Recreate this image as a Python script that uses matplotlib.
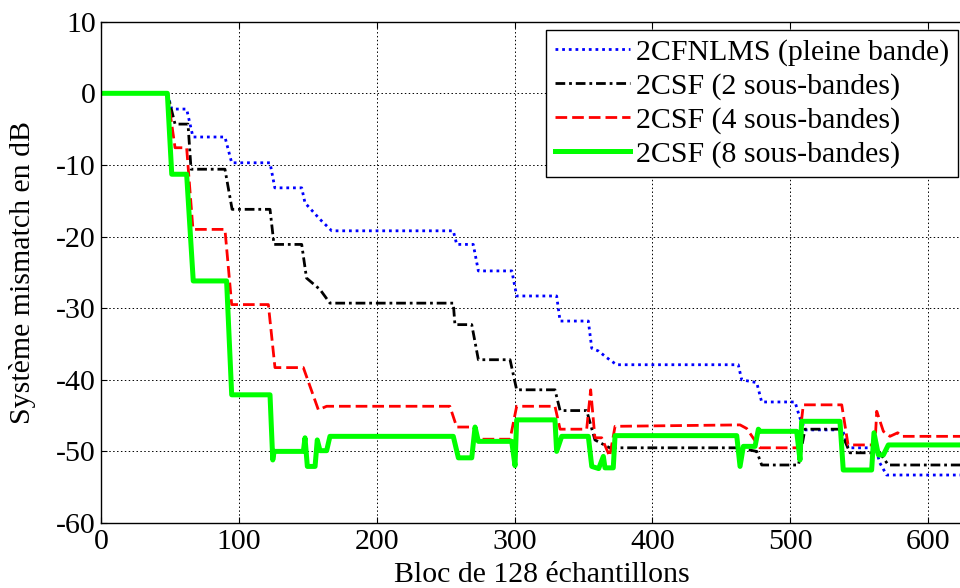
import matplotlib
matplotlib.use("Agg")
import matplotlib.pyplot as plt

plt.rcParams['font.family'] = ['Liberation Serif', 'DejaVu Serif']
plt.rcParams['axes.unicode_minus'] = False

# Misalignment curves (dB) versus block index (blocks of 128 samples)
fnlms_x = [0, 48, 51.2, 62, 66.6, 89.8, 94.7, 122.5, 126, 145.5, 147.9, 158.8, 167.3,
           255.5, 258, 270, 273.7, 298, 301.5, 330.5, 333, 353.5, 356, 361, 366.8, 374,
           462.3, 464.8, 475.7, 479.3, 503.5, 507, 511, 538, 542, 562, 565, 570, 640]
fnlms_y = [0, 0, -2.2, -2.2, -6.1, -6.1, -9.7, -9.7, -13.2, -13.2, -15.3, -17.6, -19.2,
           -19.2, -21.1, -21.1, -24.8, -24.8, -28.3, -28.3, -31.8, -31.8, -35.6, -36.0, -36.9, -37.9,
           -37.9, -40.0, -40.4, -43.1, -43.1, -45.3, -47.0, -47.0, -49.5, -49.5, -51.6, -53.3, -53.3]

csf2_x = [0, 48, 53.6, 63, 65.2, 89.8, 95, 122.5, 125.4, 145.5, 149, 158.8, 166,
          255.5, 256.7, 268.9, 273.7, 296.7, 301.5, 329.3, 333, 352.3, 358.3, 369,
          462.3, 475.7, 479.3, 506, 510.7, 536, 543.4, 565, 571.2, 640]
csf2_y = [0, 0, -4.3, -4.3, -10.6, -10.6, -16.2, -16.2, -21.1, -21.1, -25.8, -27.4, -29.3,
          -29.3, -32.3, -32.3, -37.2, -37.2, -41.4, -41.4, -44.3, -44.3, -48.4, -49.5,
          -49.5, -50.0, -51.9, -51.9, -46.9, -46.9, -50.2, -50.2, -51.9, -51.9]

csf4_x = [0, 48, 53.6, 62, 66.6, 89.8, 94.7, 121.3, 126.1, 146.7, 157.6, 163.6,
          253, 258, 270, 273.7, 296.7, 301.5, 329.3, 333, 352.3, 355.2, 358.3, 363.2, 369, 372.9,
          463.6, 468.4, 478, 506, 509.5, 537.4, 542, 561.5, 562.8, 567.6, 572.4, 578, 581, 640]
csf4_y = [0, 0, -7.6, -7.6, -19.0, -19.0, -29.5, -29.5, -38.3, -38.3, -44.2, -43.7,
          -43.7, -46.6, -46.6, -48.3, -48.3, -43.7, -43.7, -46.9, -46.9, -41.4, -48.1, -48.1, -50.7, -46.5,
          -46.3, -46.8, -49.5, -49.5, -43.5, -43.5, -49.1, -49.1, -44.4, -47.2, -47.9, -47.4, -47.9, -47.9]

csf8_x = [0, 48, 51.2, 62, 66.8, 91, 94.7, 122.5, 124.5, 125.5, 146.7, 147.9, 149.6, 155.2,
          156.8, 158.8, 163.6, 166, 255.5, 259.2, 268.9, 271.3, 273.7, 297.9, 300.3, 301.5,
          329.3, 330.5, 334.2, 353.5, 356, 361, 364.4, 365.6, 371.6, 372.9,
          461.2, 463.6, 466, 474.5, 476.9, 478, 504.7, 507.1, 508.3, 536.1, 538.5, 559.1,
          560.8, 564, 567.6, 571.2, 640]
csf8_y = [0, 0, -11.3, -11.3, -26.2, -26.2, -42.1, -42.1, -51.2, -50.0, -50.0, -48.1, -52.1, -52.1,
          -48.4, -49.9, -49.9, -47.9, -47.9, -50.9, -50.9, -46.6, -48.6, -48.6, -52.0, -45.6,
          -45.6, -50.0, -47.9, -47.9, -52.1, -52.4, -50.7, -52.3, -52.3, -47.8,
          -47.8, -52.1, -49.3, -49.3, -46.9, -47.2, -47.2, -51.2, -45.8, -45.8, -52.6, -52.6,
          -47.4, -50.5, -50.5, -49.1, -49.1]

labels = ['2CFNLMS (pleine bande)', '2CSF (2 sous-bandes)',
          '2CSF (4 sous-bandes)', '2CSF (8 sous-bandes)']
xticks = [0, 100, 200, 300, 400, 500, 600]
yticks = [-60, -50, -40, -30, -20, -10, 0, 10]

W, H = 960, 588
fig = plt.figure(figsize=(W / 100, H / 100), dpi=100)
left, bottom, top = 101.2, 523.0, 21.7
xmax = 640
width_px = xmax * 1.378
ax = fig.add_axes([left / W, 1 - bottom / H, width_px / W, (bottom - top) / H])

ax.plot(fnlms_x, fnlms_y, color='#0000ff', lw=2.0, linestyle=(0, (1, 1.4)), label=labels[0])
ax.plot(csf2_x, csf2_y, color='black', lw=2.0, linestyle=(0, (3.5, 1.4, 1, 1.4)), label=labels[1])
ax.plot(csf4_x, csf4_y, color='#ff0000', lw=2.0, linestyle=(0, (4.2, 1.8)), label=labels[2])
ax.plot(csf8_x, csf8_y, color='#00ff00', lw=3.6, linestyle='-', label=labels[3])

fs = 21.5
ax.set_xlim(0, xmax)
ax.set_ylim(-60, 10)
ax.set_xticks(xticks)
ax.set_yticks(yticks)
ax.tick_params(direction='in', length=4, width=0.8, labelsize=fs, top=True, right=True,
               pad=4)
ax.grid(True, color='black', linestyle=(0, (1.5, 2.5)), linewidth=0.7)
for s in ax.spines.values():
    s.set_linewidth(1.0)

ax.set_xlabel('Bloc de 128 échantillons', fontsize=fs)
ax.set_ylabel('Système mismatch en dB', fontsize=fs)
ax.xaxis.set_label_coords(0.5, -0.078)
ax.yaxis.set_label_coords(-0.074, 0.5)

leg = ax.legend(loc='upper right', bbox_to_anchor=(958 / W, 1 - 30 / H),
                bbox_transform=fig.transFigure, fontsize=fs, frameon=True,
                fancybox=False, framealpha=1, edgecolor='black',
                handlelength=2.5, handletextpad=0.2, labelspacing=0.22,
                borderpad=0.3, borderaxespad=0)
leg.get_frame().set_linewidth(1.0)

fig.savefig('out.png', dpi=100)
